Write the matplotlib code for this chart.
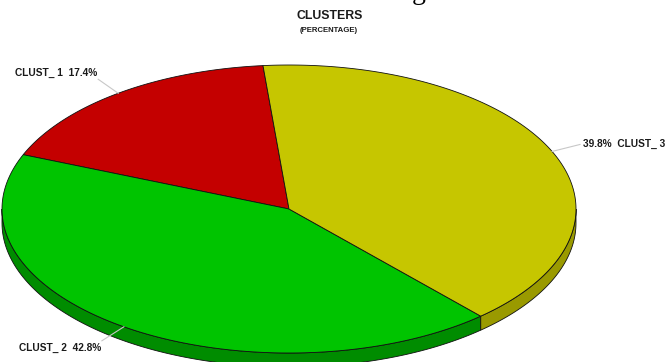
import numpy as np
import matplotlib
matplotlib.use('Agg')
import matplotlib.pyplot as plt

# --- datos ---
clusters = ['CLUST_ 1', 'CLUST_ 2', 'CLUST_ 3']
porcentajes = [17.4, 42.8, 39.8]
colores_top = ['#c40000', '#00c400', '#c6c600']
colores_lado = ['#8a0000', '#008c00', '#9a9a00']

# --- geometria del pastel (en pixeles) ---
CX, CY = 289, 209
RA, RB = 287, 144
PROF = 14
INICIO = 95.2

plt.rcParams['font.family'] = ['Liberation Sans', 'DejaVu Sans']

fig = plt.figure(figsize=(6.66, 3.62), dpi=100)
ax = fig.add_axes([0, 0, 1, 1])
ax.set_xlim(0, 666)
ax.set_ylim(362, 0)
ax.axis('off')


def punto(t):
    t = np.radians(t)
    return CX + RA * np.cos(t), CY - RB * np.sin(t)


vals = np.array(porcentajes)
bordes = INICIO + 360 * np.concatenate([[0], np.cumsum(vals) / vals.sum()])

# lados (solo la parte frontal, 180-360 grados)
for i in range(len(vals)):
    t1, t2 = bordes[i], bordes[i + 1]
    for desp in (0, 360):
        a = max(t1, 180 + desp)
        b = min(t2, 360 + desp)
        if b <= a:
            continue
        t = np.linspace(a, b, 120)
        x, y = punto(t)
        xs = np.concatenate([x, x[::-1]])
        ys = np.concatenate([y, (y + PROF)[::-1]])
        ax.fill(xs, ys, color=colores_lado[i], ec='#101010', lw=0.6, zorder=1)

# superficie superior
for i in range(len(vals)):
    t = np.linspace(bordes[i], bordes[i + 1], 200)
    x, y = punto(t)
    xs = np.concatenate([[CX], x, [CX]])
    ys = np.concatenate([[CY], y, [CY]])
    ax.fill(xs, ys, color=colores_top[i], ec='#101010', lw=0.6, zorder=2)

# etiquetas con lineas guia
desfases = [(-20, -14), (-22, 14), (28, -7)]
for i, nombre in enumerate(clusters):
    medio = (bordes[i] + bordes[i + 1]) / 2
    px, py = punto(medio)
    dx, dy = desfases[i]
    ex, ey = px + dx, py + dy
    ax.plot([px, ex], [py, ey], color='#c8c8c8', lw=0.8, zorder=3)
    if dx < 0:
        txt = f"{nombre}  {porcentajes[i]:.1f}%"
        ax.text(ex - 1, ey - 6 if dy < 0 else ey + 7, txt, ha='right', va='center',
                fontsize=7.3, fontweight='bold', color='#1a1a1a')
    else:
        txt = f"{porcentajes[i]:.1f}%  {nombre}"
        ax.text(ex + 3, ey, txt, ha='left', va='center',
                fontsize=7.3, fontweight='bold', color='#1a1a1a')

ax.text(330, 16, 'CLUSTERS', ha='center', va='center', fontsize=8.8,
        fontweight='bold', color='#1a1a1a')
ax.text(329, 31, '(PERCENTAGE)', ha='center', va='center', fontsize=5.6,
        fontweight='bold', color='#1a1a1a')
ax.text(419, -1, 'g', ha='center', va='baseline', fontsize=20,
        family='Liberation Serif', color='black')

fig.savefig('out.png', dpi=100)
